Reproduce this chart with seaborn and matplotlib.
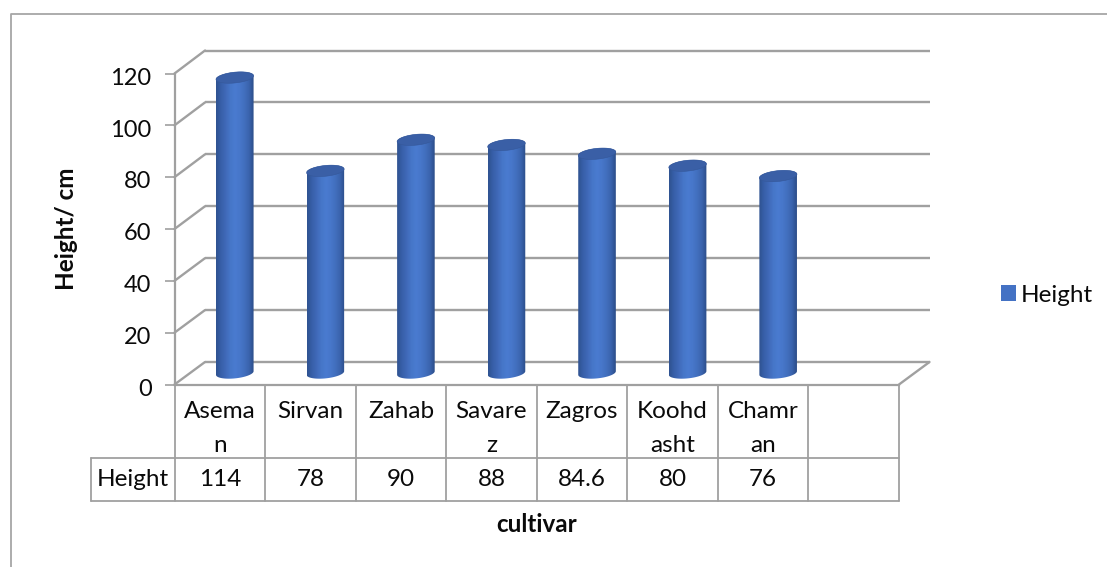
import numpy as np
import pandas as pd
import matplotlib
matplotlib.use("Agg")
import matplotlib.pyplot as plt
import matplotlib.transforms as mtrans
import seaborn as sns
from matplotlib.colors import LinearSegmentedColormap
from matplotlib.patches import Patch, PathPatch, Polygon
from matplotlib.path import Path

# ---- data ----
cultivars = ["Aseman", "Sirvan", "Zahab", "Savarez", "Zagros", "Koohdasht", "Chamran", ""]
heights = [114, 78, 90, 88, 84.6, 80, 76, np.nan]
table_heads = ["Asema\nn", "Sirvan", "Zahab", "Savare\nz", "Zagros", "Koohd\nasht", "Chamr\nan", ""]
table_vals = ["114", "78", "90", "88", "84.6", "80", "76", ""]
y_ticks = [0, 20, 40, 60, 80, 100, 120]
series_name = "Height"
x_title = "cultivar"
y_title = "Height/ cm"

sns.set_theme(style="white")
plt.rcParams["font.family"] = ["Lato", "DejaVu Sans"]
FS = 17.5
GRID = "#a0a0a0"
TXT = "#0a0a0a"
W, H = 1107, 567

fig = plt.figure(figsize=(W / 100, H / 100), dpi=100, facecolor="white")


def px_axes(x0, x1, ytop, ybot, **kw):
    return fig.add_axes([x0 / W, 1 - ybot / H, (x1 - x0) / W, (ybot - ytop) / H], **kw)


# overlay in pixel coordinates for frame, table, wall diagonals
ov = fig.add_axes([0, 0, 1, 1], zorder=1)
ov.set_xlim(0, W)
ov.set_ylim(H, 0)
ov.axis("off")

# back wall
back = px_axes(205, 930, 50.5, 362, zorder=2)
back.set_xlim(0, 1)
back.set_ylim(0, 120)
back.axis("off")
back.hlines(y_ticks, 0, 1, color=GRID, lw=1.7, clip_on=False)

# diagonals: front wall to back wall
front_x, back_dx = 174.5, 30.5
for t in y_ticks:
    yf = 384.5 - t * 311 / 120
    yb = 362 - t * 311.5 / 120
    ov.plot([front_x, front_x + back_dx], [yf, yb], color=GRID, lw=1.7)
ov.plot([899, 929.5], [384.5, 362], color=GRID, lw=1.7)

# outer chart frame
ov.plot([10.5, 10.5, W], [H, 14, 14], color="#a6a6a6", lw=1.3)

# bars: the axes reaches below zero so the rounded cylinder base is not cut off
px_per_unit = 311 / 120
y_floor = -10
df = pd.DataFrame({"cultivar": cultivars, "height": heights})
bx = px_axes(189.5, 914, 62, 373 - y_floor * px_per_unit, zorder=3)
sns.barplot(data=df, x="cultivar", y="height", ax=bx, width=0.415,
            color="#4472C4", saturation=1, legend=False)
bx.set_xlim(-0.5, 7.5)
bx.set_ylim(y_floor, 120)
bx.axis("off")

cyl = LinearSegmentedColormap.from_list(
    "cyl", ["#2f5290", "#375fa8", "#4069b8", "#4676c8", "#4a7bd0", "#4777ca", "#426fbe", "#3a63ad", "#2c4d88"])
grad = np.linspace(0, 1, 128).reshape(1, -1)
b_y = 5.4 / px_per_unit   # half height of the ellipse, data units
k_y = 1.8 / px_per_unit   # tilt of the ellipse, data units
th = np.linspace(0, 2 * np.pi, 121)
for bar in list(bx.patches):
    h = bar.get_height()
    if not np.isfinite(h) or h == 0:
        continue
    x0, w = bar.get_x(), bar.get_width()
    cx = x0 + w / 2
    bar.set_visible(False)
    ey = k_y * np.cos(th) + b_y * np.sin(th)
    top_xy = np.column_stack([cx + w / 2 * np.cos(th), h + ey])
    # body outline: bottom half of the base ellipse, top half of the top ellipse
    low = th[60:121]
    up = th[0:61]
    bx_low = np.column_stack([cx + w / 2 * np.cos(low), k_y * np.cos(low) + b_y * np.sin(low)])
    bx_up = np.column_stack([cx + w / 2 * np.cos(up), h + k_y * np.cos(up) + b_y * np.sin(up)])
    outline = np.vstack([bx_low, bx_up, bx_low[:1]])
    body = PathPatch(Path(outline, closed=True), transform=bx.transData, fc="none", ec="none")
    bx.add_patch(body)
    im = bx.imshow(grad, extent=[x0, x0 + w, y_floor, h + 5], cmap=cyl, aspect="auto",
                   origin="lower", zorder=3, interpolation="bilinear")
    im.set_clip_path(body)
    bx.add_patch(Polygon(top_xy, closed=True, fc="#3a5fa6", ec="#35589a", lw=0.4, zorder=4))
bx.set_xlim(-0.5, 7.5)
bx.set_ylim(y_floor, 120)

# front value axis with real tick labels
fr = px_axes(174.5, 899, 73.5, 384.5, zorder=4)
fr.patch.set_alpha(0)
fr.set_xlim(0, 1)
fr.set_ylim(0, 120)
fr.set_xticks([])
fr.set_yticks(y_ticks)
fr.tick_params(axis="y", length=7.5, width=1.2, color=GRID, labelsize=17, labelcolor=TXT, pad=9, left=True)
shift = mtrans.ScaledTranslation(0, -2 / 72, fig.dpi_scale_trans)
for lab in fr.get_yticklabels():
    lab.set_transform(lab.get_transform() + shift)
for side in ("top", "right"):
    fr.spines[side].set_visible(False)
for side in ("left", "bottom"):
    fr.spines[side].set_color(GRID)
    fr.spines[side].set_linewidth(1.6)
fr.set_ylabel(y_title, fontsize=FS, fontweight="bold", color=TXT)
fr.yaxis.set_label_coords((78 - 174.5) / 724.5, (384.5 - 229) / 311)

# data table below the axis
col_w = 724.5 / 8
r0, r1, r2 = 384.5, 458, 501
for i in range(9):
    xx = 174.5 + i * col_w
    ov.plot([xx, xx], [r0, r2], color=GRID, lw=1.3)
ov.plot([91, 899], [r1, r1], color=GRID, lw=1.3)
ov.plot([91, 899], [r2, r2], color=GRID, lw=1.3)
ov.plot([91, 91], [r1, r2], color=GRID, lw=1.3)
for i, (head, val) in enumerate(zip(table_heads, table_vals)):
    xc = 174.5 + (i + 0.5) * col_w
    ov.text(xc, 401, head, ha="center", va="top", fontsize=FS, color=TXT, linespacing=1.75)
    ov.text(xc, 479.5, val, ha="center", va="center", fontsize=FS, color=TXT)
ov.text(132.5, 479, series_name, ha="center", va="center", fontsize=FS, color=TXT)
ov.text(537, 525, x_title, ha="center", va="center", fontsize=FS, fontweight="bold", color=TXT)

# legend
fig.legend(handles=[Patch(fc="#4472C4", ec="none", label=series_name)],
           loc="center left", bbox_to_anchor=(1001 / W, 1 - 295 / H), frameon=False,
           fontsize=FS, handlelength=0.62, handleheight=0.62, handletextpad=0.2, labelcolor=TXT,
           borderaxespad=0, borderpad=0)

fig.savefig("out.png", dpi=100, facecolor="white")
